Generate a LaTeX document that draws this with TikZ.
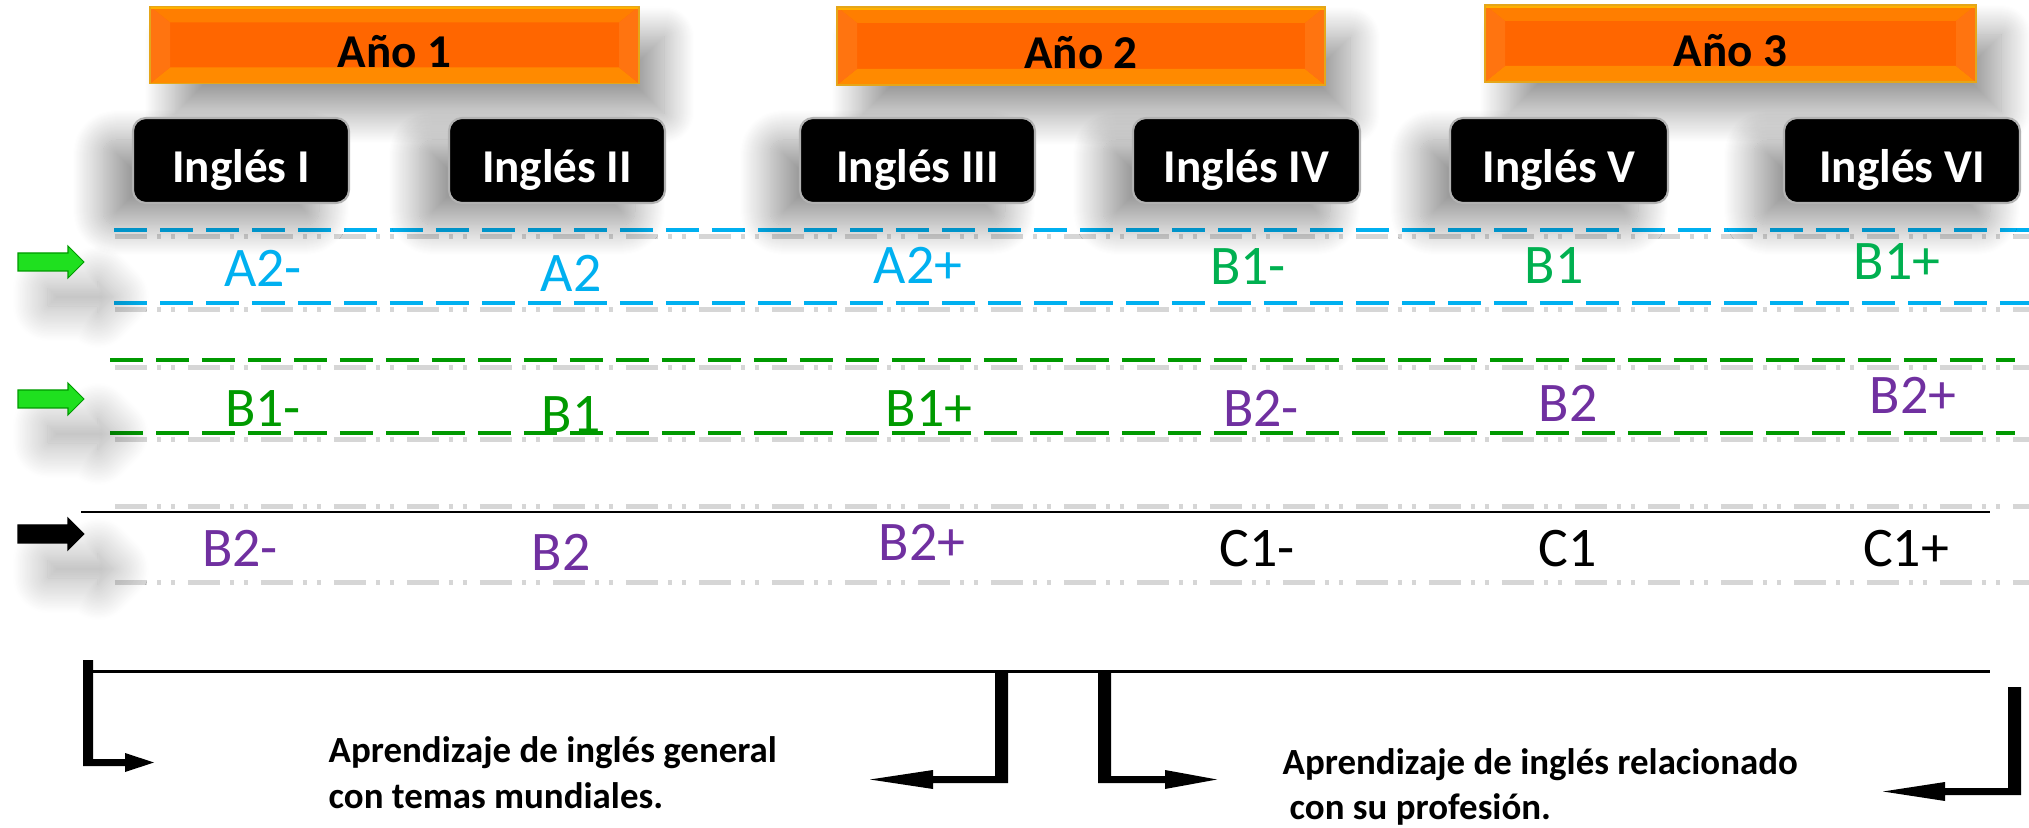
\documentclass[tikz,border=0pt]{standalone}
\usepackage{fontspec}
\setmainfont{Carlito}
\usetikzlibrary{shadows.blur}
\definecolor{lvblue}{HTML}{00B0F0}
\definecolor{lvgreen}{HTML}{00B050}
\definecolor{lvdkgreen}{HTML}{009A00}
\definecolor{lvpurple}{HTML}{7030A0}
\definecolor{orMain}{HTML}{FF6600}
\definecolor{orTop}{HTML}{FF7E00}
\definecolor{orEdge}{HTML}{FFB000}
\definecolor{orSide}{HTML}{FF7410}
\definecolor{orBot}{HTML}{FF8A00}
\definecolor{arrgreen}{HTML}{1FE01F}
\definecolor{arrdark}{HTML}{009900}
\definecolor{shadowgray}{HTML}{C4C4C4}
\begin{document}
\begin{tikzpicture}[x=0.1mm,y=-0.1mm,
  yearbox/.style={minimum width=48.9mm, minimum height=7.7mm, inner sep=0pt,
    fill=orMain, draw=orEdge!80!gray, line width=0.3pt,
    text height=4.6mm, text depth=0pt,
    font=\bfseries\fontsize{13.4}{16}\selectfont, text=black,
    blur shadow={shadow xshift=2.5mm, shadow yshift=-3mm, shadow blur radius=3mm, shadow blur steps=30, shadow opacity=40},
    path picture={
      \fill[orTop] (path picture bounding box.north west) -- (path picture bounding box.north east)
        -- ([xshift=-2mm,yshift=-1.6mm]path picture bounding box.north east)
        -- ([xshift=2mm,yshift=-1.6mm]path picture bounding box.north west) -- cycle;
      \fill[orBot] (path picture bounding box.south west) -- (path picture bounding box.south east)
        -- ([xshift=-2mm,yshift=1.6mm]path picture bounding box.south east)
        -- ([xshift=2mm,yshift=1.6mm]path picture bounding box.south west) -- cycle;
      \fill[orSide] (path picture bounding box.north west) -- ([xshift=2mm,yshift=-1.6mm]path picture bounding box.north west)
        -- ([xshift=2mm,yshift=1.6mm]path picture bounding box.south west) -- (path picture bounding box.south west) -- cycle;
      \fill[orSide] (path picture bounding box.north east) -- ([xshift=-2mm,yshift=-1.6mm]path picture bounding box.north east)
        -- ([xshift=-2mm,yshift=1.6mm]path picture bounding box.south east) -- (path picture bounding box.south east) -- cycle;
      \fill[orEdge] (path picture bounding box.north west) rectangle ([yshift=-0.3mm]path picture bounding box.north east);
    }},
  coursebox/.style={rounded corners=1.3mm, fill=black, draw=gray!60, line width=0.6pt,
    text=white, font=\bfseries\fontsize{13.4}{16}\selectfont,
    minimum height=8.5mm, inner sep=0pt, text height=4.5mm, text depth=0pt,
    blur shadow={shadow xshift=-3mm, shadow yshift=-2.2mm, shadow blur radius=3mm, shadow blur steps=30, shadow opacity=40}},
  level/.style={anchor=base, inner sep=0pt, font=\fontsize{15.9}{19}\selectfont},
  bluedash/.style={draw=lvblue, line width=0.4mm, dash pattern=on 3.3mm off 1.3mm},
  greendash/.style={draw=arrdark, line width=0.4mm, dash pattern=on 3.3mm off 1.3mm},
  shadowline/.style={draw=shadowgray, line width=0.5mm, opacity=0.7,
    dash pattern=on 3.2mm off 1mm on 0.4mm off 1mm on 0.4mm off 1.3mm},
  sidearrow/.style={line width=0.3pt,
    blur shadow={shadow xshift=3mm, shadow yshift=-3.5mm, shadow blur radius=3.5mm, shadow blur steps=30, shadow opacity=35}},
  elbow/.style={fill=black},
  bottomtext/.style={anchor=base west, inner sep=0pt, font=\bfseries\fontsize{10.5}{12.8}\selectfont}
]
\useasboundingbox (0,0) rectangle (2029,828);

% shadow lines (drawn first, underneath)
\foreach \yy in {237,310,368,440,507,583}
  \draw[shadowline] (115,\yy) -- (2029,\yy);

% level guide lines
\coordinate (b1l) at (114,230); \coordinate (b1r) at (2029,230);
\coordinate (b2l) at (114,303); \coordinate (b2r) at (2029,303);
\coordinate (g1l) at (110,360); \coordinate (g1r) at (2015,360);
\coordinate (g2l) at (110,433); \coordinate (g2r) at (2015,433);
\coordinate (kl) at (81,512); \coordinate (kr) at (1990,512);
\draw[bluedash] (b1l) -- (b1r);
\draw[bluedash] (b2l) -- (b2r);
\draw[greendash] (g1l) -- (g1r);
\draw[greendash] (g2l) -- (g2r);
\draw[line width=0.25mm] (kl) -- (kr);

% year boxes
\node[yearbox] (y1) at (394.5,45) {Año 1};
\node[yearbox, minimum width=48.8mm, minimum height=7.8mm] (y2) at (1081,46) {Año 2};
\node[yearbox, minimum width=49.1mm] (y3) at (1730.5,43.5) {Año 3};

% course boxes
\node[coursebox, minimum width=21.6mm] (c1) at (241,160.5) {Inglés I};
\node[coursebox, minimum width=21.6mm] (c2) at (557,160.5) {Inglés II};
\node[coursebox, minimum width=23.5mm] (c3) at (917.5,160.5) {Inglés III};
\node[coursebox, minimum width=22.7mm] (c4) at (1246.5,160.5) {Inglés IV};
\node[coursebox, minimum width=21.8mm] (c5) at (1559,160.5) {Inglés V};
\node[coursebox, minimum width=23.6mm] (c6) at (1902,160.5) {Inglés VI};

% level labels row 1
\node[level, text=lvblue] (r1a) at (263,287) {A2-};
\node[level, text=lvblue] (r1b) at (571,292) {A2};
\node[level, text=lvblue] (r1c) at (918,284) {A2+};
\node[level, text=lvgreen] (r1d) at (1248,285) {B1-};
\node[level, text=lvgreen] (r1e) at (1554,284) {B1};
\node[level, text=lvgreen] (r1f) at (1897,280) {B1+};
% row 2
\node[level, text=lvdkgreen] (r2a) at (263,427) {B1-};
\node[level, text=lvdkgreen] (r2b) at (571,432) {B1};
\node[level, text=lvdkgreen] (r2c) at (929,427) {B1+};
\node[level, text=lvpurple] (r2d) at (1261,427) {B2-};
\node[level, text=lvpurple] (r2e) at (1568,422) {B2};
\node[level, text=lvpurple] (r2f) at (1913,413) {B2+};
% row 3
\node[level, text=lvpurple] (r3a) at (240,567) {B2-};
\node[level, text=lvpurple] (r3b) at (561,571) {B2};
\node[level, text=lvpurple] (r3c) at (922,561) {B2+};
\node[level, text=black] (r3d) at (1257,566) {C1-};
\node[level, text=black] (r3e) at (1568,567) {C1};
\node[level, text=black] (r3f) at (1906,567) {C1+};

% side arrows
\foreach \yy/\fc/\dc in {262/arrgreen/arrdark, 399/arrgreen/arrdark, 534/black/black}
  \filldraw[sidearrow, fill=\fc, draw=\dc] (18,\yy-9) -- (68,\yy-9) -- (68,\yy-16) -- (84,\yy)
     -- (68,\yy+16) -- (68,\yy+9) -- (18,\yy+9) -- cycle;

% bottom line
\coordinate (bl) at (83,671); \coordinate (br) at (1990,671);
\draw[line width=0.3mm] (bl) -- (br);

% elbow arrows
\fill[elbow] (83,660) -- (93,660) -- (93,759) -- (125,759) -- (125,753) -- (154,762.5)
  -- (125,772) -- (125,766) -- (83,766) -- cycle;
\fill[elbow] (1008,673) -- (995,673) -- (995,776) -- (933,776) -- (933,770) -- (870,779.5)
  -- (933,789) -- (933,783) -- (1008,783) -- cycle;
\fill[elbow] (1098,673) -- (1111,673) -- (1111,776) -- (1165,776) -- (1165,770) -- (1217,779.5)
  -- (1165,789) -- (1165,783) -- (1098,783) -- cycle;
\fill[elbow] (2021,687) -- (2008,687) -- (2008,788) -- (1945,788) -- (1945,782) -- (1883,791.5)
  -- (1945,801) -- (1945,795) -- (2021,795) -- cycle;

% bottom texts
\node[bottomtext] (t1a) at (328,762) {Aprendizaje de inglés general};
\node[bottomtext] (t1b) at (328,808) {con temas mundiales.};
\node[bottomtext] (t2a) at (1282,774) {Aprendizaje de inglés relacionado};
\node[bottomtext] (t2b) at (1289,820) {con su profesión.};
\end{tikzpicture}
\end{document}
